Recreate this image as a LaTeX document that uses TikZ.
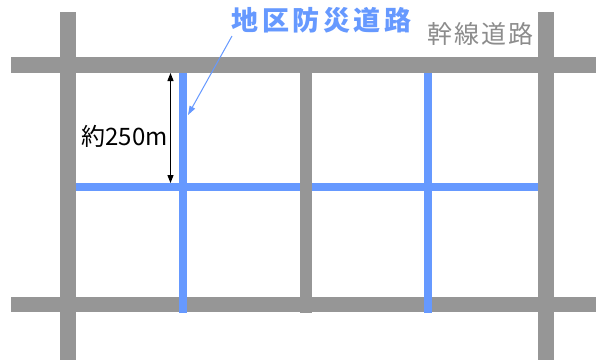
\documentclass[tikz,border=0pt]{standalone}
\usepackage{fontspec}
\newfontfamily\jp{Noto Sans CJK JP}
\usetikzlibrary{arrows.meta}
\definecolor{roadgray}{RGB}{150,150,150}
\definecolor{roadblue}{RGB}{102,153,255}
\definecolor{labelgray}{RGB}{140,140,140}
\begin{document}
\begin{tikzpicture}[x=1pt,y=-1pt,
  grayroad/.style={fill=roadgray},
  blueroad/.style={fill=roadblue},
  txt/.style={inner sep=0pt}]
\useasboundingbox (0,0) rectangle (596,360);
\fill[white] (0,0) rectangle (596,360);
% main trunk roads
\fill[grayroad] (10.5,57) rectangle (596,73);
\fill[grayroad] (10.5,297) rectangle (596,312);
\fill[grayroad] (60,12) rectangle (76,360);
\fill[grayroad] (538,12) rectangle (553.5,360);
% district disaster-prevention roads
\fill[blueroad] (76,183) rectangle (538,191);
\fill[blueroad] (179,73) rectangle (187,313);
\fill[blueroad] (423.5,73) rectangle (431.5,313);
% middle gray road
\fill[grayroad] (300,73) rectangle (312,313);
% labels
\node[txt, font=\jp\bfseries\fontsize{27}{27}\selectfont, text=roadblue, anchor=base west]
  (title) at (231.5,30.5) {地\kern3.5pt区\kern3.5pt防\kern3.5pt災\kern3.5pt道\kern3.5pt路};
\node[txt, font=\jp\fontsize{25}{25}\selectfont, text=labelgray, anchor=base west]
  (trunk) at (427,43.3) {幹\kern2pt線\kern2pt道\kern2pt路};
\node[txt, font=\jp\fontsize{24}{24}\selectfont, anchor=base east]
  (dist) at (168,145) {約250m};
% dimension arrow
\coordinate (dimtop) at (170.5,73);
\coordinate (dimbot) at (170.5,183);
\draw[line width=1.2pt, {Triangle[length=8pt,width=6pt]}-{Triangle[length=8pt,width=6pt]}] (dimtop) -- (dimbot);
% leader arrow
\coordinate (lstart) at (232,36);
\coordinate (ltip) at (188,115);
\draw[roadblue, line width=1pt, -{Triangle[length=9pt,width=6pt]}] (lstart) -- (ltip);
\end{tikzpicture}
\end{document}
